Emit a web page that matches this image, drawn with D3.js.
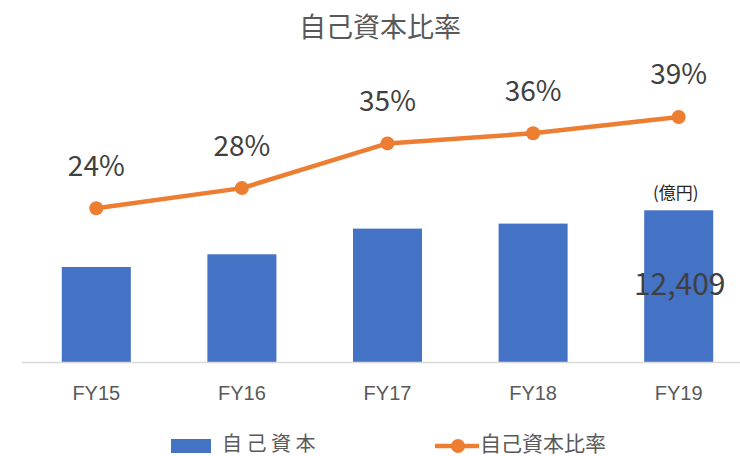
<!DOCTYPE html>
<html>
<head>
<meta charset="utf-8">
<script src="https://cdn.jsdelivr.net/npm/d3@7"></script>
<style>
  body { margin: 0; background: #fff; }
  svg { display: block; font-family: "Noto Sans CJK JP", "Noto Sans", sans-serif; }
</style>
</head>
<body>
<script>
// Data
const years = ["FY15", "FY16", "FY17", "FY18", "FY19"]
const equity = [7771, 8810, 10912, 11321, 12409]      // 億円 (only FY19 labelled)
const ratio = [24.4, 27.6, 34.7, 36.3, 38.9]           // %
const ratioLabels = ["24%", "28%", "35%", "36%", "39%"]

let main = () => {
    const width = 740
    const height = 456
    const baseY = 362

    let svg = d3.select("body")
        .append("svg")
        .attr("width", width)
        .attr("height", height)

    // Scales
    let xScale = d3.scaleBand()
        .domain(years)
        .range([23.5, 751.5])
        .paddingInner(0.526)
        .paddingOuter(0.263)
    let yBar = d3.scaleLinear()
        .domain([0, 25000])
        .range([baseY, 56.4])
    let yLine = d3.scaleLinear()
        .domain([0, 50])
        .range([baseY, baseY - 315])

    // Title
    svg.append("text")
        .attr("x", 380)
        .attr("y", 37)
        .attr("text-anchor", "middle")
        .style("font-size", "27px")
        .style("fill", "#595959")
        .text("自己資本比率")

    // Bars
    svg.selectAll(".bar")
        .data(equity).enter().append("rect")
        .attr("class", "bar")
        .attr("x", (d, i) => xScale(years[i]))
        .attr("y", d => yBar(d))
        .attr("width", xScale.bandwidth())
        .attr("height", d => baseY - yBar(d))
        .attr("fill", "#4472C4")

    // Baseline
    svg.append("line")
        .attr("x1", 22).attr("x2", width)
        .attr("y1", baseY + 0.5).attr("y2", baseY + 0.5)
        .attr("stroke", "#d9d9d9")
        .attr("stroke-width", 1.5)

    // X axis labels
    svg.selectAll(".xlab")
        .data(years).enter().append("text")
        .attr("class", "xlab")
        .attr("x", d => xScale(d) + xScale.bandwidth() / 2)
        .attr("y", 400)
        .attr("text-anchor", "middle")
        .style("font-family", "'Liberation Sans', Arial, sans-serif")
        .style("font-size", "20px")
        .style("fill", "#595959")
        .text(d => d)

    // Line
    const cx = (d, i) => xScale(years[i]) + xScale.bandwidth() / 2
    svg.append("path")
        .datum(ratio)
        .attr("d", d3.line().x(cx).y(d => yLine(d)))
        .attr("fill", "none")
        .attr("stroke", "#ED7D31")
        .attr("stroke-width", 4.5)
        .attr("stroke-linejoin", "round")
    svg.selectAll(".pt")
        .data(ratio).enter().append("circle")
        .attr("class", "pt")
        .attr("cx", cx)
        .attr("cy", d => yLine(d))
        .attr("r", 7)
        .attr("fill", "#ED7D31")

    // Ratio labels
    svg.selectAll(".rlab")
        .data(ratio).enter().append("text")
        .attr("class", "rlab")
        .attr("x", cx)
        .attr("y", d => yLine(d) - 32.5)
        .attr("text-anchor", "middle")
        .style("font-size", "28px")
        .style("fill", "#404040")
        .text((d, i) => ratioLabels[i])

    // FY19 value label and unit
    const last = equity.length - 1
    svg.append("text")
        .attr("x", cx(equity[last], last) + 1)
        .attr("y", yBar(equity[last]) + 85)
        .attr("text-anchor", "middle")
        .style("font-size", "30px")
        .style("fill", "#404040")
        .text(d3.format(",")(equity[last]))
    svg.append("text")
        .attr("x", cx(equity[last], last) - 3)
        .attr("y", yBar(equity[last]) - 11)
        .attr("text-anchor", "middle")
        .style("font-size", "17px")
        .style("fill", "#262626")
        .text("(億円)")

    // Legend
    svg.append("rect").attr("x", 171).attr("y", 439).attr("width", 40).attr("height", 14).attr("fill", "#4472C4")
    svg.append("text").attr("x", 222).attr("y", 451).text("自 己 資 本")
        .style("font-size", "20px").style("fill", "#595959")
    svg.append("line").attr("x1", 435).attr("x2", 479).attr("y1", 446).attr("y2", 446)
        .attr("stroke", "#ED7D31").attr("stroke-width", 4.5)
    svg.append("circle").attr("cx", 458).attr("cy", 446).attr("r", 7).attr("fill", "#ED7D31")
    svg.append("text").attr("x", 480).attr("y", 451).text("自己資本比率")
        .style("font-size", "21px").style("fill", "#595959")
}

main()
</script>
</body>
</html>
